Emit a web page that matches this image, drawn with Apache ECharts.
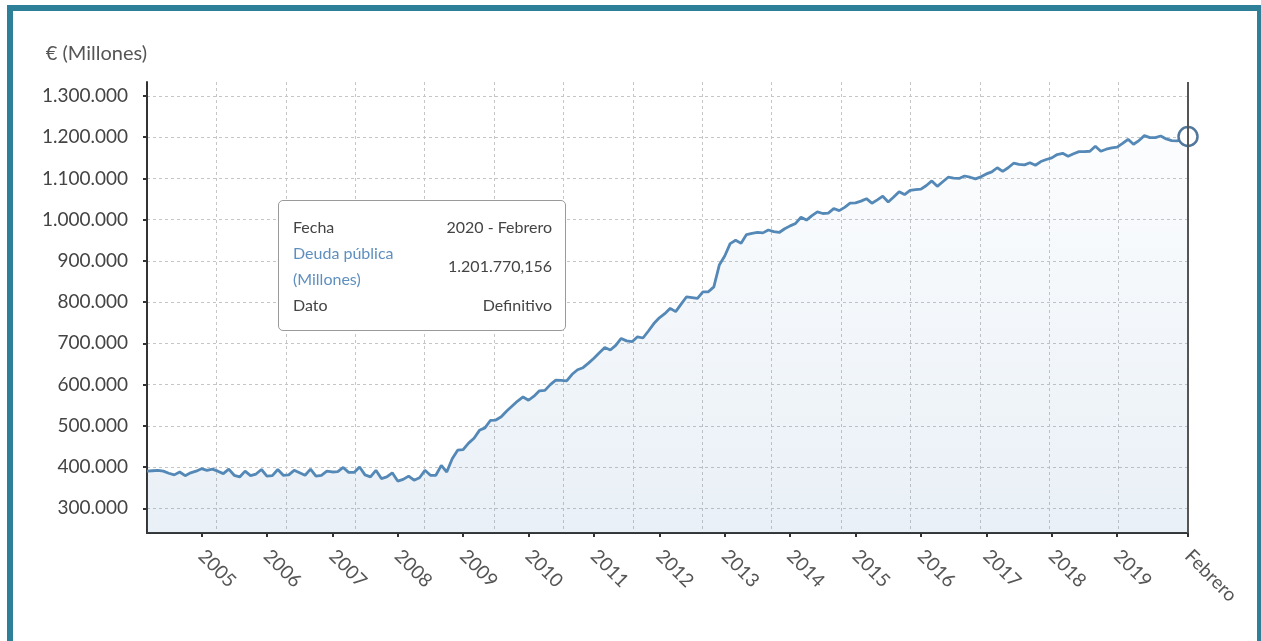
<!DOCTYPE html>
<html lang="es">
<head>
<meta charset="utf-8">
<title>Deuda pública (Millones)</title>
<script src="https://cdn.jsdelivr.net/npm/echarts@6/dist/echarts.min.js"></script>
<style>
  html, body { margin: 0; padding: 0; background: #fff; overflow: hidden; }
  #chart { position: absolute; left: 0; top: 0; width: 1261px; height: 641px; }
  #frame {
    position: absolute; left: 7px; top: 5px; width: 1256px; height: 680px;
    border: 6px solid #2e8098; box-sizing: border-box; pointer-events: none;
  }
</style>
</head>
<body>
<div id="chart"></div>
<div id="frame"></div>
<script>
// Deuda pública mensual, millones de €, de marzo 2004 a febrero 2020
const deuda2004 = [390000, 391000, 392000, 390000, 385000, 381000, 388000, 379000, 386000, 390000];
const deuda2005 = [396000, 392000, 395000, 390000, 384000, 395000, 380000, 376000, 390000, 379000, 383000, 394000];
const deuda2006 = [378000, 379000, 394000, 380000, 381000, 392000, 386000, 380000, 395000, 378000, 380000, 390000];
const deuda2007 = [388000, 389000, 399000, 387000, 387000, 400000, 381000, 376000, 392000, 372000, 376000, 386000];
const deuda2008 = [366000, 370000, 378000, 368000, 374000, 392000, 380000, 380000, 404000, 388000, 420000, 441000];
const deuda2009 = [442000, 458000, 470000, 489000, 495000, 513000, 514000, 522000, 536000, 548000, 560000, 570000];
const deuda2010 = [562000, 572000, 585000, 586000, 600000, 611000, 610000, 609000, 625000, 636000, 641000, 652000];
const deuda2011 = [664000, 677000, 690000, 684000, 695000, 712000, 706000, 704000, 716000, 713000, 730000, 748000];
const deuda2012 = [762000, 772000, 785000, 777000, 795000, 813000, 811000, 809000, 825000, 825000, 837000, 890000];
const deuda2013 = [912000, 942000, 950000, 943000, 964000, 967000, 969000, 968000, 975000, 971000, 969000, 978000];
const deuda2014 = [985000, 991000, 1006000, 999000, 1010000, 1019000, 1015000, 1016000, 1027000, 1022000, 1030000, 1040000];
const deuda2015 = [1041000, 1045000, 1051000, 1040000, 1048000, 1057000, 1043000, 1055000, 1068000, 1061000, 1071000, 1073000];
const deuda2016 = [1074000, 1083000, 1094000, 1081000, 1092000, 1103000, 1101000, 1100000, 1106000, 1103000, 1099000, 1104000];
const deuda2017 = [1111000, 1116000, 1126000, 1117000, 1126000, 1137000, 1134000, 1133000, 1138000, 1132000, 1141000, 1146000];
const deuda2018 = [1150000, 1158000, 1161000, 1154000, 1160000, 1165000, 1165000, 1166000, 1178000, 1166000, 1171000, 1174000];
const deuda2019 = [1176000, 1185000, 1195000, 1183000, 1192000, 1204000, 1199000, 1199000, 1203000, 1196000, 1192000, 1191000];
const deuda2020 = [1194000, 1201770.156];

const startYear = 2004;
const startMonth = 3;
const monthNames = ['Enero', 'Febrero', 'Marzo', 'Abril', 'Mayo', 'Junio', 'Julio',
  'Agosto', 'Septiembre', 'Octubre', 'Noviembre', 'Diciembre'];
// years labelled on the x axis (at January), plus the last month
const yearLabels = ['2005', '2006', '2007', '2008', '2009', '2010', '2011', '2012',
  '2013', '2014', '2015', '2016', '2017', '2018', '2019'];
const yTicks = [300000, 400000, 500000, 600000, 700000, 800000, 900000,
  1000000, 1100000, 1200000, 1300000];
const yMin = 240000;
const yMax = 1334000;
const datoTipo = 'Definitivo';

const deuda = [].concat(deuda2004, deuda2005, deuda2006, deuda2007, deuda2008,
  deuda2009, deuda2010, deuda2011, deuda2012, deuda2013, deuda2014, deuda2015,
  deuda2016, deuda2017, deuda2018, deuda2019, deuda2020);

// categories 'YYYY-MM'
const months = deuda.map((_, i) => {
  const m = startMonth - 1 + i;
  const y = startYear + Math.floor(m / 12);
  return y + '-' + String((m % 12) + 1).padStart(2, '0');
});
const last = months.length - 1;
const lastCat = months[last];

const FONT = 'Lato, "Open Sans", sans-serif';

function miles(n) {
  return String(n).replace(/\B(?=(\d{3})+(?!\d))/g, '.');
}
function numeroES(v) {
  const parts = String(v).split('.');
  return miles(parts[0]) + (parts[1] ? ',' + parts[1] : '');
}
function mesES(cat) {
  return monthNames[Number(cat.slice(5)) - 1];
}
function fechaES(cat) {
  return cat.slice(0, 4) + ' - ' + mesES(cat);
}

const isYearTick = (value) => value.slice(5) === '01' && yearLabels.includes(value.slice(0, 4));
const showAt = (index, value) => isYearTick(value) || value === lastCat;
const gridLine = { color: '#c6c6c6', width: 1, type: [3, 3] };

const chart = echarts.init(document.getElementById('chart'));

chart.setOption({
  animation: false,
  backgroundColor: '#fff',
  textStyle: { fontFamily: FONT },
  grid: { left: 147, right: 73, top: 82, bottom: 108 },
  xAxis: [
    {
      type: 'category',
      data: months,
      boundaryGap: false,
      axisLine: { lineStyle: { color: '#333', width: 2 } },
      axisTick: { interval: showAt, length: 4, lineStyle: { color: '#333', width: 2 } },
      axisLabel: {
        interval: showAt,
        rotate: -45,
        margin: 20,
        fontSize: 19,
        color: '#555',
        fontFamily: FONT,
        formatter: (value) => (value === lastCat ? mesES(value) : value.slice(0, 4))
      },
      splitLine: { show: false }
    },
    {
      // vertical grid: 15 equal divisions
      type: 'value',
      position: 'top',
      min: 0,
      max: 15,
      interval: 1,
      axisLine: { show: false },
      axisTick: { show: false },
      axisLabel: { show: false },
      axisPointer: { show: false },
      splitLine: { show: true, lineStyle: gridLine }
    }
  ],
  yAxis: {
    type: 'value',
    min: yMin,
    max: yMax,
    name: '€ (Millones)',
    nameLocation: 'end',
    nameGap: 18,
    nameTextStyle: {
      align: 'right', verticalAlign: 'bottom',
      fontSize: 20, color: '#555', fontFamily: FONT
    },
    axisLine: { show: true, lineStyle: { color: '#333', width: 2 } },
    axisTick: { show: true, customValues: yTicks, length: 4, lineStyle: { color: '#333', width: 2 } },
    axisLabel: {
      customValues: yTicks,
      margin: 19,
      fontSize: 19,
      color: '#444',
      fontFamily: FONT,
      formatter: (v) => miles(v)
    },
    splitLine: { show: true, lineStyle: gridLine }
  },
  tooltip: {
    trigger: 'axis',
    triggerOn: 'none',
    alwaysShowContent: true,
    position: [278, 200],
    transitionDuration: 0,
    backgroundColor: '#fff',
    borderColor: '#9a9a9a',
    borderWidth: 1,
    borderRadius: 5,
    padding: [13, 13, 12, 14],
    extraCssText: 'box-shadow:none;',
    textStyle: { fontFamily: FONT, fontSize: 16, color: '#444' },
    axisPointer: {
      type: 'line',
      lineStyle: { color: '#555', width: 2, type: 'solid' },
      label: { show: false }
    },
    formatter: (params) => {
      const p = Array.isArray(params) ? params[0] : params;
      const td = 'padding:0;line-height:26px;';
      return '<table style="border-collapse:collapse;width:259px;font-family:' + FONT.replace(/"/g, "'") +
        ';font-size:16px;color:#444;">' +
        '<tr><td style="' + td + '">Fecha</td><td style="' + td + 'text-align:right">' +
        fechaES(p.name) + '</td></tr>' +
        '<tr><td style="' + td + 'color:#5f8fbf">Deuda pública<br>(Millones)</td>' +
        '<td style="' + td + 'text-align:right">' + numeroES(p.value) + '</td></tr>' +
        '<tr><td style="' + td + '">Dato</td><td style="' + td + 'text-align:right">' +
        datoTipo + '</td></tr></table>';
    }
  },
  series: [
    {
      name: 'Deuda pública (Millones)',
      type: 'line',
      data: deuda,
      showSymbol: false,
      symbol: 'circle',
      symbolSize: 19,
      lineStyle: { color: '#4d7ca6', width: 2.8 },
      itemStyle: { color: '#fff', borderColor: '#51789c', borderWidth: 2.5 },
      areaStyle: {
        opacity: 1,
        color: {
          type: 'linear', x: 0, y: 0, x2: 0, y2: 1,
          colorStops: [
            { offset: 0, color: 'rgba(74, 124, 170, 0.02)' },
            { offset: 1, color: 'rgba(74, 124, 170, 0.13)' }
          ]
        }
      },
      emphasis: {
        scale: false,
        lineStyle: { width: 2.8 },
        itemStyle: { color: '#fff', borderColor: '#51789c', borderWidth: 2.5 }
      }
    }
  ]
});

chart.dispatchAction({ type: 'showTip', seriesIndex: 0, dataIndex: last });
</script>
</body>
</html>
